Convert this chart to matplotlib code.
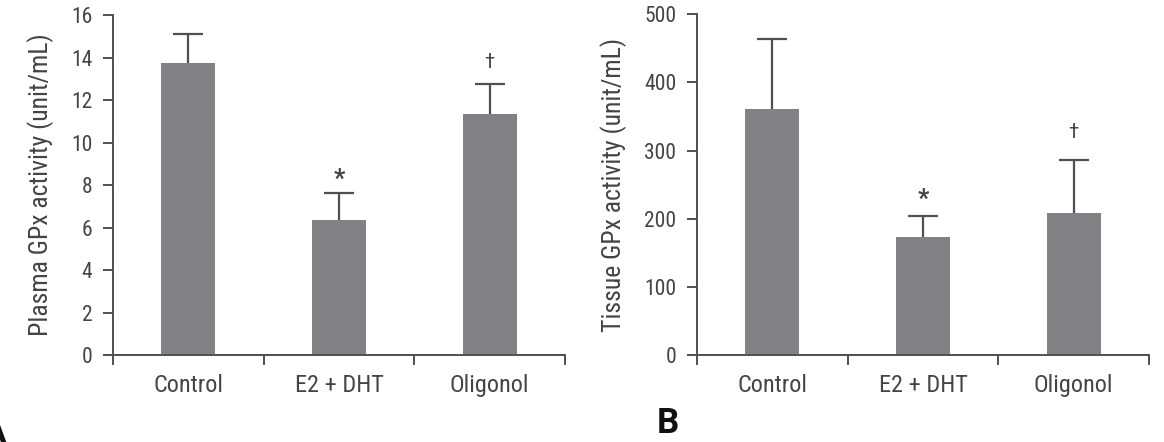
import numpy as np
import matplotlib
matplotlib.use("Agg")
import matplotlib.pyplot as plt

plt.rcParams["font.family"] = ["Roboto Condensed", "Sofia Sans Semi Condensed", "DejaVu Sans"]

groups = ["Control", "E2 + DHT", "Oligonol"]

plasma_mean = [13.75, 6.34, 11.36]
plasma_err = [1.35, 1.31, 1.41]
plasma_marks = ["", "*", "\u2020"]
plasma_mark_y = [None, 7.7, 13.3]

tissue_mean = [361, 173, 208]
tissue_err = [102, 31, 78]
tissue_marks = ["", "*", "\u2020"]
tissue_mark_y = [None, 210, 312]

BAR = "#808184"
INK = "#444444"
AXC = "#505050"


def draw_panel(ax, mean, err, marks, mark_y, ymax, ystep, ylabel):
    x = np.arange(len(groups))
    top = np.array(mean) + np.array(err)
    ax.bar(x, mean, width=0.36, color=BAR, zorder=2)
    # upper half of the error bar only
    ax.vlines(x, mean, top, color=AXC, linewidth=1.6, zorder=1)
    ax.hlines(top, x - 0.1, x + 0.1, color=AXC, linewidth=1.6, zorder=1)
    for xi, m, yy in zip(x, marks, mark_y):
        if m:
            ax.text(xi, yy, m, ha="center", va="bottom", color=INK,
                    fontsize=18 if m == "*" else 15, fontweight="bold" if m == "*" else "normal")
    ax.set_xlim(-0.5, 2.5)
    ax.set_ylim(0, ymax)
    ax.set_yticks(np.arange(0, ymax + ystep / 2, ystep))
    ax.set_xticks([-0.5, 0.5, 1.5, 2.5])
    ax.set_xticklabels([])
    ax.set_xticks(x, minor=True)
    ax.set_xticklabels(groups, minor=True)
    ax.tick_params(axis="x", which="minor", length=0, pad=14, labelsize=17.5, labelcolor=INK)
    ax.tick_params(axis="x", which="major", length=7, width=1.4, color=AXC, direction="out")
    ax.tick_params(axis="y", length=7, width=1.4, color=AXC, labelsize=15.5, labelcolor=INK, pad=8)
    for s in ["top", "right"]:
        ax.spines[s].set_visible(False)
    for s in ["left", "bottom"]:
        ax.spines[s].set_color(AXC)
        ax.spines[s].set_linewidth(1.4)
    ax.set_ylabel(ylabel, fontsize=18.5, color=INK, labelpad=12)


fig = plt.figure(figsize=(11.64, 4.42), dpi=100)
ax1 = fig.add_axes([0.0971, 0.1968, 0.3883, 0.769])
ax2 = fig.add_axes([0.5988, 0.1968, 0.3883, 0.771])

draw_panel(ax1, plasma_mean, plasma_err, plasma_marks, plasma_mark_y, 16, 2,
           "Plasma GPx activity (unit/mL)")
draw_panel(ax2, tissue_mean, tissue_err, tissue_marks, tissue_mark_y, 500, 100,
           "Tissue GPx activity (unit/mL)")

fig.text(0.564, 0.02, "B", fontsize=25, fontweight="bold", color="#111111",
         family=["Roboto", "DejaVu Sans"])
# panel letter A is cut off at the left edge in the source figure
fig.text(-0.015, 0.0, "A", fontsize=25, fontweight="bold", color="#111111",
         family=["Roboto", "DejaVu Sans"])

fig.savefig("out.png", dpi=100)
